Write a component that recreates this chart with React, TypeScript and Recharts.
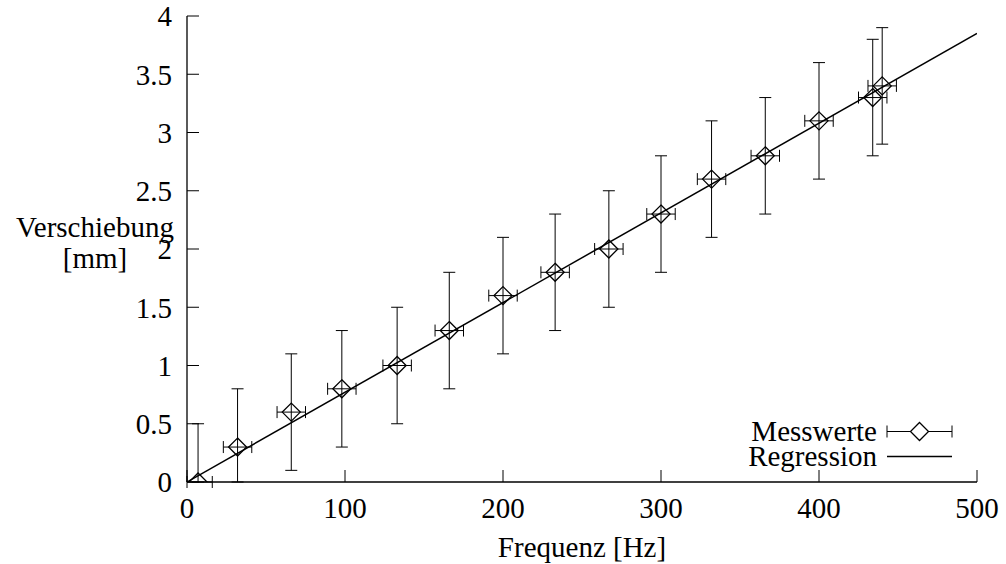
import React from 'react';
import { ComposedChart, Scatter, Line, XAxis, YAxis, ErrorBar } from 'recharts';

const frequencies = [7, 32, 66, 98, 133, 166, 200, 233, 267, 300, 332, 366, 400, 434, 440];
const displacements = [0, 0.3, 0.6, 0.8, 1.0, 1.3, 1.6, 1.8, 2.0, 2.3, 2.6, 2.8, 3.1, 3.3, 3.4];
const freqErrors = [9, 9, 9, 9, 9, 9, 9, 9, 9, 9, 9, 9, 9, 9, 9];
const dispErrors = [0.5, 0.5, 0.5, 0.5, 0.5, 0.5, 0.5, 0.5, 0.5, 0.5, 0.5, 0.5, 0.5, 0.5, 0.5];
const regressionX = [0, 500];
const regressionY = [0, 3.85];
const xDomain = [0, 500];
const yDomain = [0, 4];
const xTicks = [0, 100, 200, 300, 400, 500];
const yTicks = [0, 0.5, 1, 1.5, 2, 2.5, 3, 3.5, 4];
const legendLabels = ['Messwerte', 'Regression'];

// error bars are clipped at the plot frame (as in the original plot)
const measured = frequencies.map((f, i) => {
  const y = displacements[i];
  const ex = freqErrors[i];
  const ey = dispErrors[i];
  return {
    x: f,
    y,
    xErrRange: [Math.min(ex, f - xDomain[0]), Math.min(ex, xDomain[1] - f)],
    yErrRange: [Math.min(ey, y - yDomain[0]), Math.min(ey, yDomain[1] - y)],
  };
});
const regression = regressionX.map((x, i) => ({ x, y: regressionY[i] }));

const FONT = '"Liberation Serif", "Times New Roman", serif';
const FS = 29;

const Diamond = (props: any) => {
  const { cx, cy } = props;
  if (cx == null || cy == null) return <g />;
  const r = 9;
  return (
    <path
      d={`M${cx},${cy - r}L${cx + r},${cy}L${cx},${cy + r}L${cx - r},${cy}Z`}
      fill="none"
      stroke="#000"
      strokeWidth={1.3}
    />
  );
};

const YLabel = (props: any) => {
  const vb = props.viewBox || {};
  const cx = (vb.x || 0) + 95;
  const cy = (vb.y || 0) + (vb.height || 0) / 2;
  return (
    <text x={cx} y={cy} textAnchor="middle" fontFamily={FONT} fontSize={FS} fill="#000">
      <tspan x={cx} dy={-12}>Verschiebung</tspan>
      <tspan x={cx} dy={31}>[mm]</tspan>
    </text>
  );
};

const LegendBox = () => (
  <div
    style={{
      position: 'absolute',
      left: 700,
      top: 419,
      fontFamily: FONT,
      fontSize: FS,
      color: '#000',
      lineHeight: '25px',
    }}
  >
    <div style={{ display: 'flex', alignItems: 'center', height: 25 }}>
      <span style={{ width: 177, textAlign: 'right' }}>{legendLabels[0]}</span>
      <svg width={76} height={25}>
        <line x1={10} y1={12.5} x2={75} y2={12.5} stroke="#000" strokeWidth={1} />
        <line x1={10} y1={6.5} x2={10} y2={18.5} stroke="#000" strokeWidth={1} />
        <line x1={75} y1={6.5} x2={75} y2={18.5} stroke="#000" strokeWidth={1} />
        <path d="M42.5,3.5L51.5,12.5L42.5,21.5L33.5,12.5Z" fill="#fff" stroke="#000" strokeWidth={1.3} />
      </svg>
    </div>
    <div style={{ display: 'flex', alignItems: 'center', height: 25 }}>
      <span style={{ width: 177, textAlign: 'right' }}>{legendLabels[1]}</span>
      <svg width={76} height={25}>
        <line x1={10} y1={12.5} x2={75} y2={12.5} stroke="#000" strokeWidth={1.3} />
      </svg>
    </div>
  </div>
);

const emptyTick = () => <g />;

export default function App() {
  return (
    <div style={{ position: 'absolute', left: 0, top: 0, width: 1006, height: 564, background: '#fff' }}>
      <ComposedChart
        width={1006}
        height={564}
        margin={{ top: 16, right: 29, bottom: 0, left: 0 }}
      >
        <XAxis
          xAxisId="b"
          dataKey="x"
          type="number"
          domain={xDomain}
          allowDataOverflow
          ticks={xTicks}
          interval={0}
          height={82}
          tickSize={-12}
          tickMargin={27}
          stroke="#000"
          tick={{ fill: '#000', fontFamily: FONT, fontSize: FS }}
          axisLine={{ stroke: '#000', strokeWidth: 1.3 }}
          tickLine={{ stroke: '#000' }}
          label={{ value: 'Frequenz [Hz]', position: 'insideBottom', offset: 7, fill: '#000', fontFamily: FONT, fontSize: FS }}
        />
        <XAxis
          xAxisId="t"
          dataKey="x"
          type="number"
          orientation="top"
          domain={xDomain}
          allowDataOverflow
          ticks={xTicks}
          interval={0}
          height={0}
          tickSize={-12}
          tick={emptyTick}
          axisLine={{ stroke: '#000', strokeWidth: 1.3 }}
          tickLine={{ stroke: '#000' }}
        />
        <YAxis
          yAxisId="l"
          type="number"
          domain={yDomain}
          allowDataOverflow
          ticks={yTicks}
          interval={0}
          width={187}
          tickSize={-12}
          tickMargin={27}
          tick={{ fill: '#000', fontFamily: FONT, fontSize: FS }}
          axisLine={{ stroke: '#000', strokeWidth: 1.3 }}
          tickLine={{ stroke: '#000' }}
          label={{ content: YLabel }}
        />
        <YAxis
          yAxisId="r"
          type="number"
          orientation="right"
          domain={yDomain}
          allowDataOverflow
          ticks={yTicks}
          interval={0}
          width={0}
          tickSize={-12}
          tick={emptyTick}
          axisLine={{ stroke: '#000', strokeWidth: 1.3 }}
          tickLine={{ stroke: '#000' }}
        />
        <Line
          xAxisId="b"
          yAxisId="l"
          data={regression}
          dataKey="y"
          type="linear"
          stroke="#000"
          strokeWidth={1.5}
          dot={false}
          activeDot={false}
          isAnimationActive={false}
          legendType="none"
        />
        <Scatter
          xAxisId="b"
          yAxisId="l"
          data={measured}
          dataKey="y"
          shape={Diamond}
          isAnimationActive={false}
        >
          <ErrorBar dataKey="yErrRange" direction="y" width={6} stroke="#000" strokeWidth={1} />
          <ErrorBar dataKey="xErrRange" direction="x" width={6} stroke="#000" strokeWidth={1} />
        </Scatter>
      </ComposedChart>
      <LegendBox />
    </div>
  );
}
